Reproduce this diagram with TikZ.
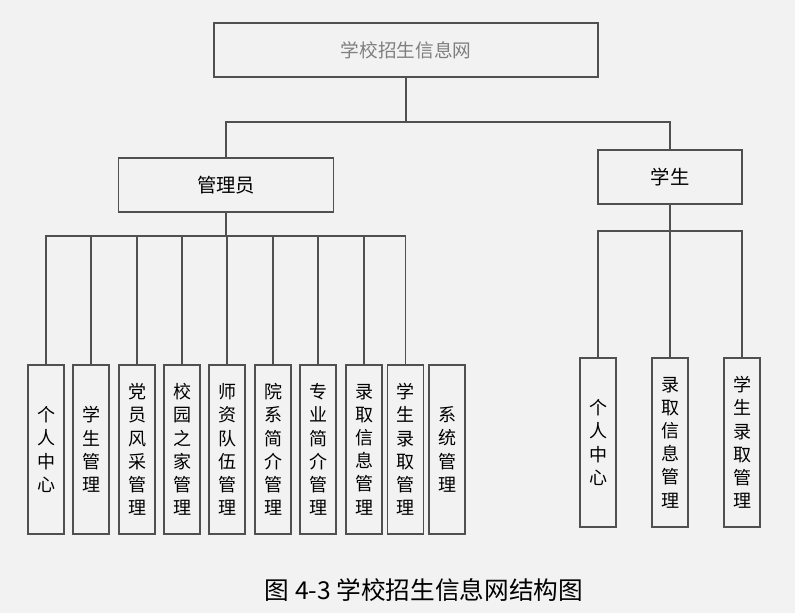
\documentclass[tikz,border=0pt]{standalone}
\usepackage{fontspec}
\newfontfamily\cjk{Noto Sans CJK SC}
\usetikzlibrary{positioning,calc}
\definecolor{PageGray}{HTML}{F2F2F2}
\definecolor{Frame}{HTML}{505050}
\definecolor{TitleGray}{HTML}{7F7F7F}
\definecolor{Ink}{HTML}{000000}

\begin{document}
\begin{tikzpicture}[x=0.75pt,y=-0.75pt,font=\cjk,
  box/.style={draw=Frame,line width=0.9pt,text=Ink,minimum height=40.5pt,font=\cjk\fontsize{14.5}{16}\selectfont},
  vbox/.style={draw=Frame,line width=0.9pt,text=Ink,minimum width=27pt,minimum height=126.75pt,inner sep=0pt,align=center,font=\cjk\fontsize{13.5}{17.4}\selectfont},
  link/.style={draw=Frame,line width=0.9pt}]
  \fill[PageGray] (0,0) rectangle (795,613);

  % top levels
  \node[box,minimum width=288pt,text=TitleGray,font=\cjk\fontsize{14}{16}\selectfont] (site) at (406,50) {学校招生信息网};
  \node[box,minimum width=161.25pt] (admin) at (226,185) {管理员};
  \node[box,minimum width=108pt] (student) at (670,177) {学生};
  \coordinate (busTop) at (406,122);
  \draw[link] (site.south) -- (busTop);
  \draw[link] (busTop) -| (admin.north);
  \draw[link] (busTop) -| (student.north);

  % admin functions
  \coordinate (busAdmin) at (226,236);
  \draw[link] (admin.south) -- (busAdmin);
  \foreach \x/\t [count=\i] in {46/{个\\人\\中\\心},91/{学\\生\\管\\理},137/{党\\员\\风\\采\\管\\理},182/{校\\园\\之\\家\\管\\理},227/{师\\资\\队\\伍\\管\\理},273/{院\\系\\简\\介\\管\\理},318/{专\\业\\简\\介\\管\\理},364/{录\\取\\信\\息\\管\\理},405.5/{学\\生\\录\\取\\管\\理},447/{系\\统\\管\\理}}{
    \node[vbox] (a\i) at (\x,449.5) {\t};
  }
  \foreach \i in {1,...,9}{
    \draw[link] (busAdmin) -| (a\i.north);
  }

  % student functions
  \coordinate (busStudent) at (670,231);
  \draw[link] (student.south) -- (busStudent);
  \foreach \x/\t [count=\i] in {598/{个\\人\\中\\心},670/{录\\取\\信\\息\\管\\理},742/{学\\生\\录\\取\\管\\理}}{
    \node[vbox] (s\i) at (\x,442.5) {\t};
    \draw[link] (busStudent) -| (s\i.north);
  }

  \node[text=Ink,font=\cjk\fontsize{18.5}{20}\selectfont] (caption) at (424,590) {图 4-3 学校招生信息网结构图};
\end{tikzpicture}
\end{document}
